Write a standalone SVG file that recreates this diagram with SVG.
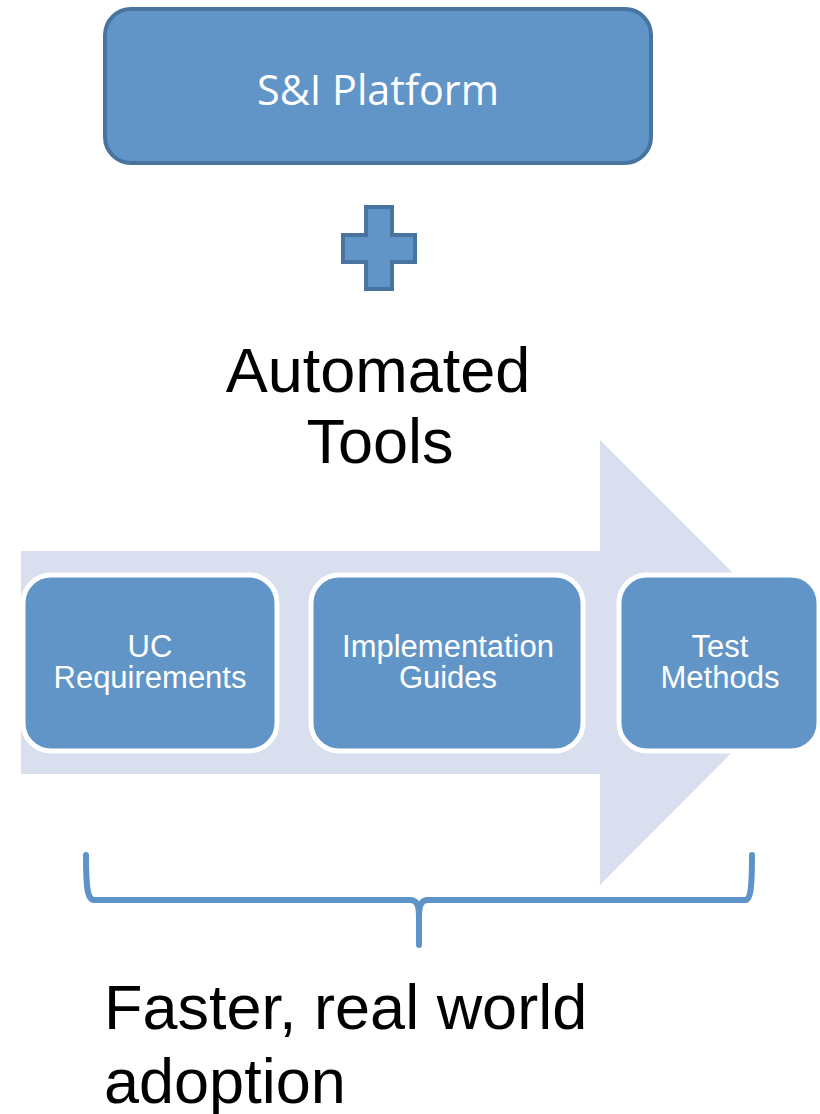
<svg xmlns="http://www.w3.org/2000/svg" width="820" height="1114" viewBox="0 0 820 1114">
<style>
.box{fill:#6195C8;stroke:#fff;stroke-width:5}
.wt{fill:#fff;font-family:"Liberation Sans",Arial,sans-serif;font-size:31px;text-anchor:middle}
.bt{fill:#000;font-family:"Liberation Sans",Arial,sans-serif;font-size:63px}
</style>
<rect width="820" height="1114" fill="#fff"/>
<g id="platform">
<rect x="105" y="9" width="546" height="154" rx="26" fill="#6195C8" stroke="#4A74A0" stroke-width="4"/>
<text x="378" y="105" fill="#fff" font-family="'Open Sans','Noto Sans',sans-serif" font-size="42" text-anchor="middle" textLength="242" lengthAdjust="spacingAndGlyphs">S&amp;I Platform</text>
</g>
<g id="plus">
<polygon points="366,207 392,207 392,235 415,235 415,262 392,262 392,289 366,289 366,262 343,262 343,235 366,235" fill="#6195C8" stroke="#4A74A0" stroke-width="4"/>
</g>
<g id="automated-tools">
<text class="bt" x="378" y="392" text-anchor="middle">Automated</text>
<text class="bt" x="380" y="463" text-anchor="middle">Tools</text>
</g>
<g id="arrow">
<polygon points="21,551 600,551 600,440 822,662 600,885 600,774 21,774" fill="#D9DFEE"/>
</g>
<g id="uc-requirements">
<rect class="box" x="23" y="575" width="254" height="176" rx="28"/>
<text class="wt" x="150" y="657">UC</text>
<text class="wt" x="150" y="688">Requirements</text>
</g>
<g id="implementation-guides">
<rect class="box" x="311" y="575" width="272" height="176" rx="28"/>
<text class="wt" x="448" y="657">Implementation</text>
<text class="wt" x="448" y="688">Guides</text>
</g>
<g id="test-methods">
<rect class="box" x="619" y="575" width="200" height="176" rx="28"/>
<text class="wt" x="720" y="657">Test</text>
<text class="wt" x="720" y="688">Methods</text>
</g>
<g id="connectors">
<path d="M86,855 C86,885 87,900 94,900 L410,900 C417,900 419,905 419,918 L419,945 M419,918 C419,905 421,900 428,900 L745,900 C751,900 752,885 752,855" fill="none" stroke="#5E93C8" stroke-width="6" stroke-linecap="round" stroke-linejoin="round"/>
</g>
<g id="outcome">
<text class="bt" x="104" y="1029">Faster, real world</text>
<text class="bt" x="104" y="1103">adoption</text>
</g>
</svg>
